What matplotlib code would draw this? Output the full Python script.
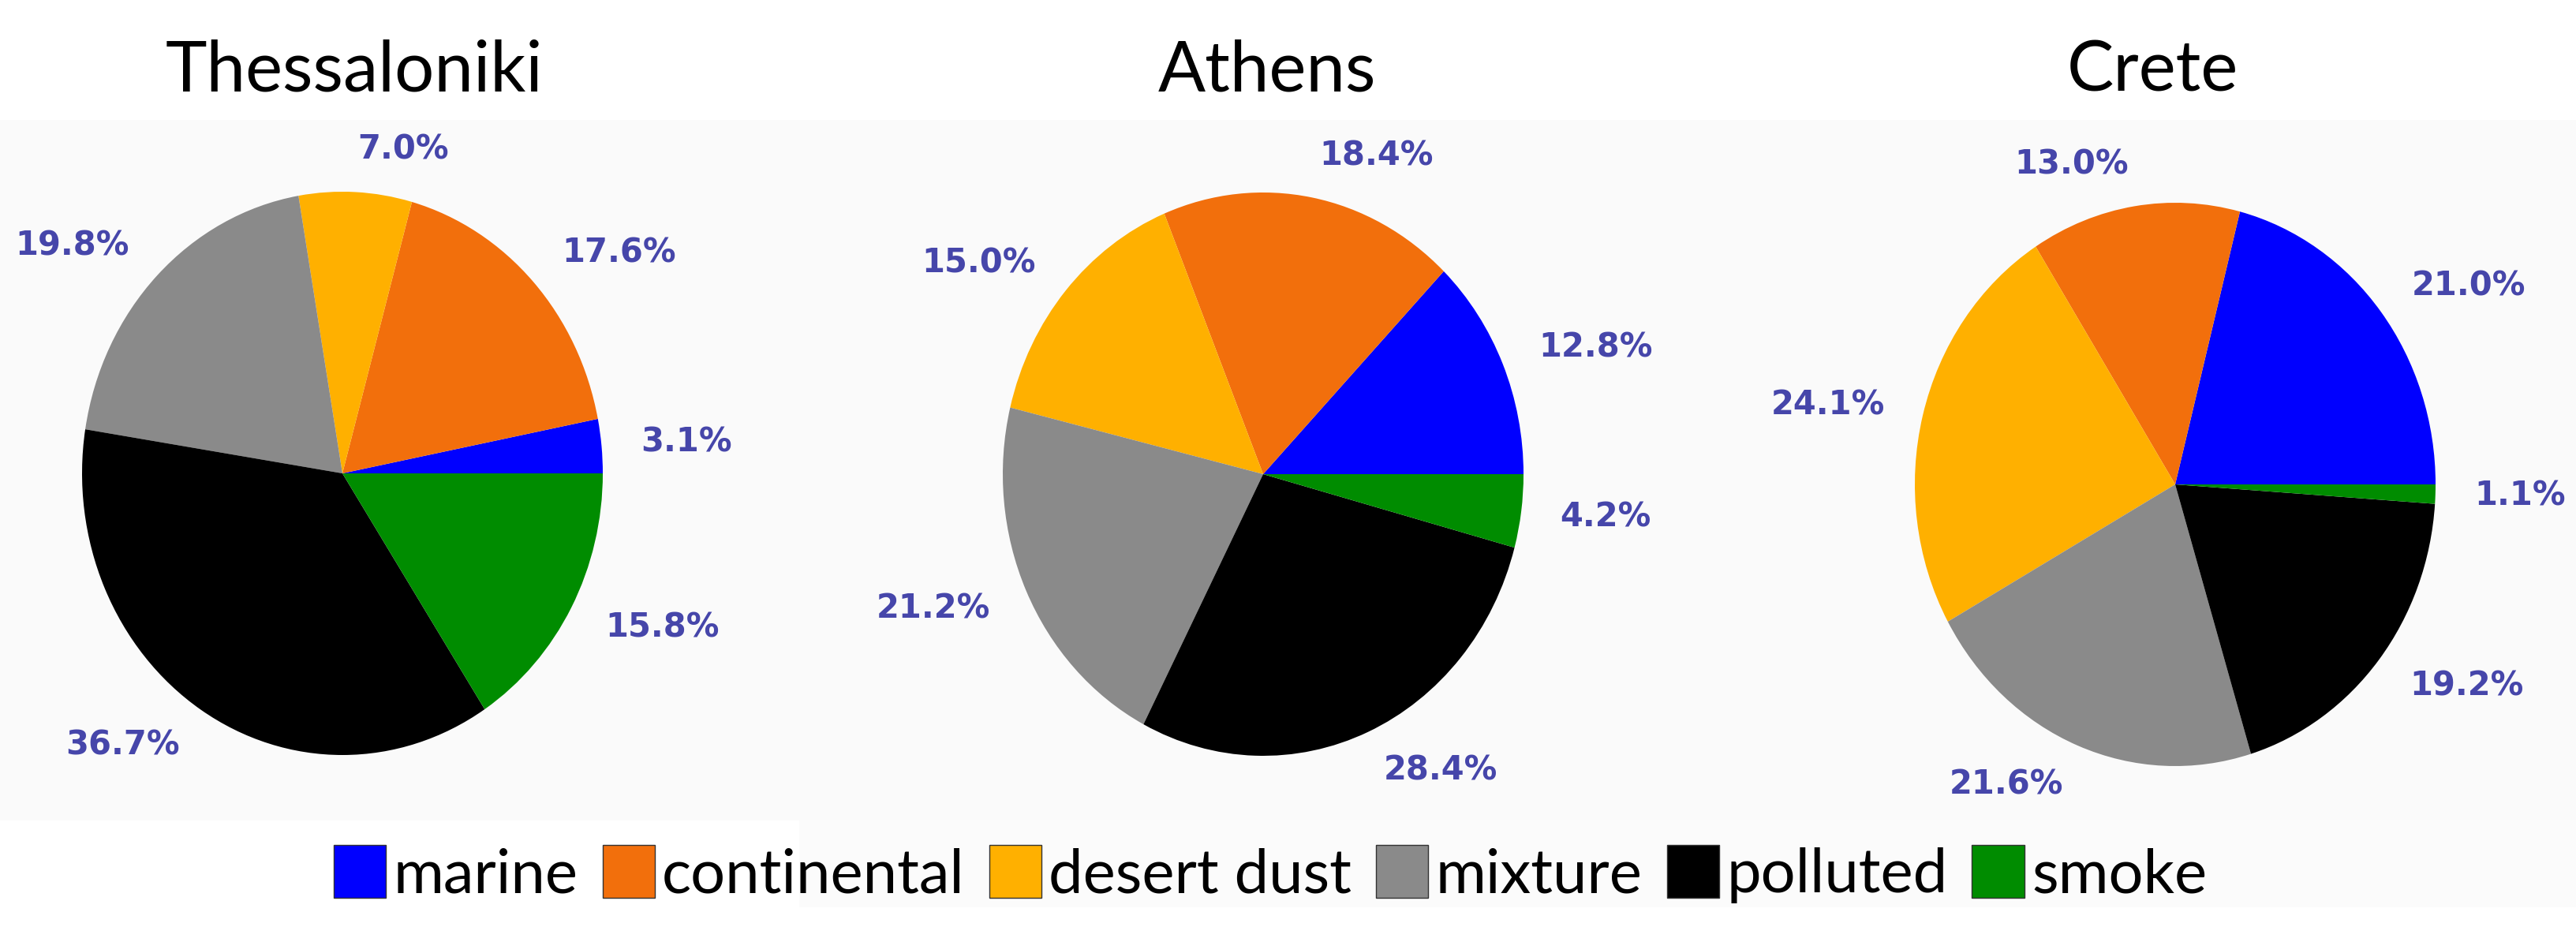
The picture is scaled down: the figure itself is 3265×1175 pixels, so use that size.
import matplotlib
matplotlib.use("Agg")
import matplotlib.pyplot as plt
from matplotlib.patches import Rectangle, Patch

# ---- data ----
categories = ["marine", "continental", "desert dust", "mixture", "polluted", "smoke"]
sites = ["Thessaloniki", "Athens", "Crete"]
thessaloniki = [3.1, 17.6, 7.0, 19.8, 36.7, 15.8]
athens = [12.8, 18.4, 15.0, 21.2, 28.4, 4.2]
crete = [21.0, 13.0, 24.1, 21.6, 19.2, 1.1]
colors = ["#0000ff", "#f26f0c", "#ffb000", "#8a8a8a", "#000000", "#008c00"]

values = [thessaloniki, athens, crete]

W, H = 3266, 1175
fig = plt.figure(figsize=(W / 100, H / 100), dpi=100)
fig.patch.set_facecolor("white")

# very light gray backdrop behind the pies
fig.add_artist(Rectangle((0, 1 - 1040 / H), 1, (1040 - 152) / H,
                         transform=fig.transFigure, facecolor="#fafafa",
                         edgecolor="none", zorder=0))
fig.add_artist(Rectangle((1013 / W, 1 - 1150 / H), 1 - 1013 / W, 110 / H,
                         transform=fig.transFigure, facecolor="#fbfbfb",
                         edgecolor="none", zorder=0))

# pie centres / radii in pixels (layout)
centers = [(434, 600), (1601, 601), (2757, 614)]
rx, ry = 330, 357
title_x = [449, 1606, 2728]
label_color = "#4646aa"

for vals, name, (cx, cy), tx in zip(values, sites, centers, title_x):
    ax = fig.add_axes([(cx - rx) / W, (H - cy - ry) / H, 2 * rx / W, 2 * ry / H])
    ax.patch.set_alpha(0)
    wedges, texts = ax.pie(vals, colors=colors, startangle=0, counterclock=True,
                           labels=[f"{v:.1f}%" for v in vals], labeldistance=1.15,
                           textprops=dict(color=label_color, fontsize=30,
                                          fontweight="bold", family="DejaVu Sans"))
    for w in wedges:
        w.set_clip_on(False)
    ax.set_aspect("auto")
    ax.set_xlim(-1, 1)
    ax.set_ylim(-1, 1)
    fig.text(tx / W, 1 - 116 / H, name, ha="center", va="baseline",
             fontsize=64, family="Lato", color="black")

handles = [Patch(facecolor=c, edgecolor="#333333", linewidth=1.0) for c in colors]
fig.legend(handles, categories, loc="center", bbox_to_anchor=(1610 / W, 1 - 1108 / H),
           ncol=6, frameon=False, prop=dict(family="Lato", size=56),
           handlelength=0.85, handleheight=0.95, handletextpad=0.12,
           columnspacing=0.4, borderpad=0, borderaxespad=0)

fig.savefig("out.png", dpi=100, facecolor="white")
